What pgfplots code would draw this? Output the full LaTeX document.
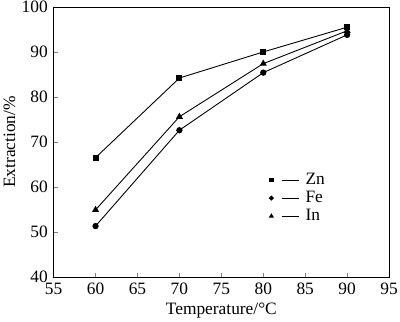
\documentclass[border=0pt]{standalone}
\usepackage{fontspec}
\setmainfont{Liberation Serif}
\usepackage{pgfplots}
\pgfplotsset{compat=1.18}
\begin{document}
\fontsize{17bp}{20bp}\selectfont
\begin{tikzpicture}
\begin{axis}[
  scale only axis,
  width=338bp, height=272bp,
  xmin=55, xmax=95, ymin=40, ymax=100,
  xtick={55,60,...,95}, ytick={40,50,...,100},
  tick pos=left, tick align=inside,
  major tick length=4bp,
  /pgf/number format/assume math mode=true,
  tick label style={font=\fontsize{17.5bp}{20bp}\selectfont},
  label style={font=\fontsize{17.5bp}{20bp}\selectfont},
  xlabel={Temperature/\textdegree C},
  ylabel={Extraction/\%},
  xlabel style={yshift=3bp},
  ylabel style={yshift=-5bp},
  axis line style={line width=0.8bp},
  every axis plot/.append style={line width=0.9bp, black},
  legend cell align=left,
  legend style={draw=none, fill=none, at={(axis cs:80.35,63.8)}, anchor=north west,
    font=\fontsize{17.5bp}{20bp}\selectfont, row sep=2.2bp,
    nodes={inner ysep=1bp}},
  legend image code/.code={
    \draw[#1, mark=none] (11bp,0bp) -- (28bp,0bp);
    \draw[#1, only marks, mark size=2bp] plot coordinates {(0bp,0bp)};
  },
]
\coordinate (bl) at (rel axis cs:0,0);
\coordinate (tr) at (rel axis cs:1,1);
\addplot[mark=square*, mark size=2.5bp] coordinates {(60,66.5) (70,84.2) (80,90.0) (90,95.5)};
\addlegendentry{\hspace*{4bp}Zn}
\addplot[mark=*, mark size=2.7bp] coordinates {(60,51.3) (70,72.6) (80,85.4) (90,93.8)};
\addlegendentry{\hspace*{4bp}Fe}
\addplot[mark=triangle*, mark size=3.2bp] coordinates {(60,54.9) (70,75.6) (80,87.4) (90,94.7)};
\addlegendentry{\hspace*{4bp}In}
\end{axis}
\pgfresetboundingbox
\path[use as bounding box] ([xshift=-54bp,yshift=-45bp]bl) rectangle ([xshift=11bp,yshift=7bp]tr);
\end{tikzpicture}
\end{document}
